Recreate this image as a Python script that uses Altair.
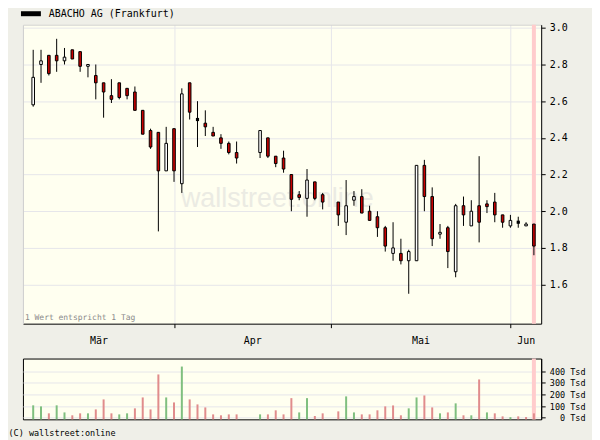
import altair as alt
import pandas as pd
import numpy as np

# ---------------- data ----------------
first_day = "2006-03-08"
last_day = "2006-06-06"
holidays = ["2006-04-14", "2006-04-17", "2006-05-01"]
series_name = "ABACHO AG (Frankfurt)"

opens = [2.58, 2.80, 2.85, 2.85, 2.82, 2.88, 2.87, 2.79, 2.74, 2.70,
         2.63, 2.70, 2.67, 2.65, 2.55, 2.44, 2.43, 2.22, 2.45, 2.15,
         2.70, 2.50, 2.48, 2.43, 2.40, 2.37, 2.32,
         2.32, 2.40, 2.30, 2.29, 2.20, 2.09, 2.07, 2.16, 2.09,
         2.05, 1.94, 2.06, 2.08, 2.00, 1.97, 1.91, 1.77, 1.77, 1.73,
         1.73, 2.25, 2.08, 1.875, 1.91, 1.67, 2.03, 1.92, 2.03, 2.04,
         2.05, 1.98, 1.92, 1.94, 1.92, 1.93]
highs = [2.88, 2.88, 2.85, 2.94, 2.89, 2.88, 2.87, 2.80, 2.80, 2.70,
         2.72, 2.70, 2.67, 2.68, 2.55, 2.45, 2.43, 2.46, 2.45, 2.67,
         2.70, 2.60, 2.55, 2.46, 2.42, 2.38, 2.38,
         2.44, 2.40, 2.30, 2.33, 2.20, 2.11, 2.23, 2.16, 2.10,
         2.05, 2.17, 2.11, 2.12, 2.03, 2.00, 1.92, 1.94, 1.85, 1.79,
         2.25, 2.28, 2.13, 1.93, 1.92, 2.04, 2.08, 2.06, 2.30, 2.06,
         2.10, 1.98, 1.98, 1.97, 1.94, 1.93]
lows = [2.57, 2.70, 2.74, 2.76, 2.80, 2.83, 2.76, 2.73, 2.61, 2.51,
        2.59, 2.61, 2.61, 2.55, 2.42, 2.34, 1.89, 2.22, 2.16, 2.10,
        2.50, 2.35, 2.41, 2.41, 2.34, 2.31, 2.26,
        2.29, 2.29, 2.24, 2.21, 2.00, 2.06, 1.97, 2.06, 2.01,
        1.92, 1.87, 2.03, 1.99, 1.95, 1.86, 1.78, 1.73, 1.71, 1.55,
        1.73, 2.00, 1.81, 1.85, 1.69, 1.64, 1.92, 1.92, 1.83, 1.99,
        1.94, 1.91, 1.91, 1.91, 1.92, 1.76]
closes = [2.73, 2.82, 2.75, 2.82, 2.84, 2.83, 2.79, 2.80, 2.70, 2.65,
          2.61, 2.62, 2.63, 2.55, 2.42, 2.35, 2.22, 2.37, 2.22, 2.64,
          2.54, 2.50, 2.46, 2.41, 2.37, 2.32, 2.29,
          2.44, 2.30, 2.26, 2.23, 2.065, 2.075, 2.17, 2.07, 2.05,
          1.98, 2.03, 2.08, 1.99, 1.95, 1.91, 1.81, 1.80, 1.73, 1.78,
          2.25, 2.08, 1.85, 1.885, 1.78, 2.03, 1.98, 2.00, 1.94, 2.025,
          1.98, 1.94, 1.95, 1.94, 1.93, 1.81]
volumes = [106, 97, 37, 106, 45, 20, 37, 37, 71, 157,
           37, 28, 37, 80, 174, 71, 372, 174, 131, 440,
           157, 114, 88, 28, 20, 28, 28,
           28, 28, 63, 28, 168, 45, 168, 14, 37,
           54, 183, 45, 28, 28, 63, 97, 105, 20, 80,
           174, 191, 88, 37, 45, 123, 20, 20, 329, 45,
           37, 11, 4, 11, 5, 37]  # Tsd

month_names = {3: "Mär", 4: "Apr", 5: "Mai", 6: "Jun"}
price_ticks = [1.6, 1.8, 2.0, 2.2, 2.4, 2.6, 2.8, 3.0]
volume_ticks = [0, 100, 200, 300, 400]
note_text = "1 Wert entspricht 1 Tag"
watermark_text = "wallstreet:online"
copyright_text = "(C) wallstreet:online"

# ---------------- table ----------------
all_days = pd.bdate_range(first_day, last_day)
slot_of = {d: i for i, d in enumerate(all_days)}
trade_days = [d for d in all_days if d.strftime("%Y-%m-%d") not in holidays]

df = pd.DataFrame({"date": trade_days, "open": opens, "high": highs,
                   "low": lows, "close": closes, "volume": volumes})
df["slot"] = [slot_of[d] for d in trade_days]
df["series"] = series_name
df["dir"] = np.where(df.close > df.open, "up", np.where(df.close < df.open, "down", "flat"))
prev = df.close.shift(1).fillna(df.open)
df["vdir"] = np.where(df.close >= prev, "up", "down")
last = df.tail(1)

boundaries = [i for i in range(1, len(all_days)) if all_days[i].month != all_days[i - 1].month]
months = [all_days[0].month] + [all_days[i].month for i in boundaries]

x_domain = [-1.31, 64.93]
price_domain = [1.387, 3.017]
volume_domain = [-14.6, 509]

edges = [x_domain[0]] + boundaries + [x_domain[1]]
centers = [(edges[i] + edges[i + 1]) / 2 for i in range(len(months))]
label_expr = ""
for b, m in zip(boundaries, months[:-1]):
    label_expr += f"datum.value < {b} ? '{month_names[m]}' : "
label_expr += f"'{month_names[months[-1]]}'"

# ---------------- style ----------------
MONO = "DejaVu Sans Mono"
RED = "#c80000"
GRID = "#e6e6ea"
PLOT_BG = "#fffff0"
OUTER_BG = "#efefe8"

xs = alt.Scale(domain=x_domain, nice=False, zero=False, padding=0)
ps = alt.Scale(domain=price_domain, nice=False, zero=False, padding=0)
vs = alt.Scale(domain=volume_domain, nice=False, zero=False, padding=0)

base = alt.Chart(df)

watermark = alt.Chart(pd.DataFrame({"t": [watermark_text]})).mark_text(
    font="Liberation Sans", fontSize=27, color="#ebebe3", align="center", baseline="middle"
).encode(
    x=alt.XDatum(31.2, type="quantitative", scale=xs,
                 axis=alt.Axis(orient="top", labels=False, ticks=False, grid=False,
                               domainColor="#cfcfcf", title=None)),
    y=alt.YDatum(2.066, type="quantitative", scale=ps,
                 axis=alt.Axis(orient="left", labels=False, ticks=False, grid=False,
                               domainColor="#cfcfcf", title=None)),
    text="t:N",
)

highlight = alt.Chart(last).mark_rule(color="#ffcccc", strokeWidth=4).encode(
    x=alt.X("slot:Q", scale=xs, axis=None)
)

wicks = base.mark_rule(strokeWidth=1, color="black").encode(
    x=alt.X("slot:Q", scale=xs, title=None,
            axis=alt.Axis(orient="bottom", values=boundaries, labels=False, ticks=True,
                          tickSize=4, grid=True, domainColor="black")),
    y=alt.Y("low:Q", scale=ps, title=None,
            axis=alt.Axis(orient="right", values=price_ticks, format=".1f", tickSize=4,
                          grid=True, labelPadding=4)),
    y2="high:Q",
)

bodies = base.mark_bar(size=2.6, stroke="black", strokeWidth=1).encode(
    x=alt.X("slot:Q", scale=xs, title=None,
            axis=alt.Axis(orient="bottom", values=centers, labelExpr=label_expr, ticks=False,
                          grid=False, domain=False, labelPadding=12, labelFlush=False)),
    y=alt.Y("open:Q", scale=ps, axis=None),
    y2="close:Q",
    fill=alt.Fill("dir:N", scale=alt.Scale(domain=["up", "down", "flat"],
                                           range=["white", RED, "black"]), legend=None),
)

flats = base.transform_filter("datum.dir == 'flat'").mark_square(
    size=10, opacity=1, filled=True
).encode(
    x=alt.X("slot:Q", scale=xs, axis=None),
    y=alt.Y("close:Q", scale=ps, axis=None),
    color=alt.Color("series:N", scale=alt.Scale(range=["black"]),
                    legend=alt.Legend(orient="none", legendX=3, legendY=-16, title=None,
                                      symbolType="M-2,-0.5H2V0.5H-2Z", symbolSize=100,
                                      symbolFillColor="black", symbolStrokeColor="black",
                                      symbolStrokeWidth=0, symbolOpacity=1,
                                      labelFont=MONO, labelFontSize=10,
                                      labelColor="black", labelOffset=13, padding=0)),
)

note = alt.Chart(pd.DataFrame({"t": [note_text]})).mark_text(
    font=MONO, fontSize=8, color="#8a8a8a", align="left", baseline="bottom", dx=2, dy=-2
).encode(
    x=alt.XDatum(x_domain[0], type="quantitative", scale=xs, axis=None),
    y=alt.YDatum(price_domain[0], type="quantitative", scale=ps, axis=None),
    text="t:N",
)

main = alt.layer(watermark, highlight, wicks, bodies, flats, note).resolve_axis(
    x="independent", y="independent"
).properties(
    width=520, height=300,
    view=alt.ViewBackground(fill=PLOT_BG, stroke=None),
)

vol_highlight = alt.Chart(last).mark_rule(color="#ffcccc", strokeWidth=4).encode(
    x=alt.X("slot:Q", scale=xs, axis=None)
)

vol_bars = base.mark_bar(size=2).encode(
    x=alt.X("slot:Q", scale=xs, title=None,
            axis=alt.Axis(orient="bottom", values=boundaries, labels=False, ticks=False,
                          grid=True, domain=False)),
    y=alt.Y("volume:Q", scale=vs, title=None,
            axis=alt.Axis(orient="right", values=volume_ticks, labelExpr="datum.value + ' Tsd'",
                          tickSize=4, grid=True, labelAlign="right", labelPadding=40,
                          labelFontSize=8.5)),
    y2=alt.datum(volume_domain[0]),
    color=alt.Color("vdir:N", scale=alt.Scale(domain=["up", "down"],
                                              range=["#7fbf7f", "#e08c8c"]), legend=None),
)

vol = alt.layer(vol_highlight, vol_bars).properties(
    width=520, height=61,
    view=alt.ViewBackground(fill=PLOT_BG, stroke="black", strokeWidth=1),
)

chart = alt.vconcat(main, vol, spacing=35, bounds="flush").resolve_scale(
    color="independent", fill="independent"
).properties(
    background=OUTER_BG,
    padding={"left": 0, "top": 0, "right": 6, "bottom": 2},
    title=alt.TitleParams(copyright_text, orient="bottom", anchor="start", dx=-14, offset=6,
                          font=MONO, fontSize=8.5, fontWeight="normal", color="black"),
).configure_axis(
    labelFont=MONO, labelFontSize=10, labelColor="black", tickColor="black",
    domainColor="black", gridColor=GRID, gridWidth=1, domainWidth=1, tickWidth=1,
)

chart.save("out.html", embed_options={"renderer": "svg", "actions": False})
